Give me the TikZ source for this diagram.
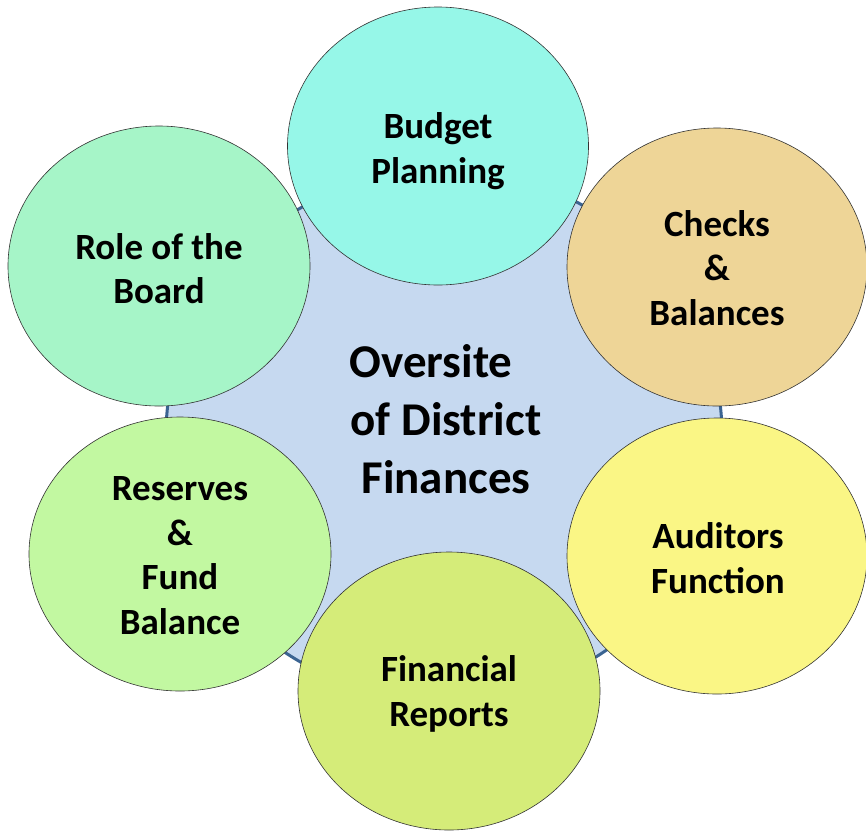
\documentclass[tikz,border=0pt]{standalone}
\usepackage{fontspec}
\setmainfont{Carlito}
\begin{document}
\begin{tikzpicture}[x=1pt,y=-1pt,
  sat/.style={draw=black!80,line width=0.6pt},
  lbl/.style={font=\fontsize{37}{44.5}\selectfont\bfseries,align=center,text=black},
  hub/.style={font=\fontsize{47}{58}\selectfont\bfseries,align=center,text=black}]
\definecolor{hubfill}{HTML}{C6D9F0}
\definecolor{hubline}{HTML}{3B6492}
\definecolor{cBudget}{HTML}{96F7E8}
\definecolor{cRole}{HTML}{A6F5C8}
\definecolor{cChecks}{HTML}{EED597}
\definecolor{cAudit}{HTML}{FAF685}
\definecolor{cFin}{HTML}{D5EC79}
\definecolor{cRes}{HTML}{C2F8A1}
\useasboundingbox (0,0) rectangle (866,831);
% central shape
\draw[fill=hubfill,draw=hubline,line width=3pt] (444,435) ellipse [x radius=278,y radius=265];
\node[hub] (hub) at (446,419) {\mbox{Oversite\kern 30pt}\\of District\\Finances};
% satellites
\draw[sat,fill=cBudget] (438,146) ellipse [x radius=150.5,y radius=139];
\draw[sat,fill=cRole] (159,266) ellipse [x radius=151,y radius=140];
\draw[sat,fill=cChecks] (717,267) ellipse [x radius=150,y radius=139];
\draw[sat,fill=cAudit] (717,556) ellipse [x radius=150,y radius=138];
\draw[sat,fill=cFin] (449,691) ellipse [x radius=151,y radius=139];
\draw[sat,fill=cRes] (180,554) ellipse [x radius=151,y radius=137];
% labels
\node[lbl] (budget) at (438,151) {Budget\\Planning};
\node[lbl] (role) at (159,268.5) {Role of the\\Board};
\node[lbl] (checks) at (717,268) {Checks\\\&\\Balances};
\node[lbl] (audit) at (718,558) {Auditors\\Function};
\node[lbl] (fin) at (449,694) {Financial\\Reports};
\node[lbl] (res) at (180,555.5) {Reserves\\\&\\Fund\\Balance};
\end{tikzpicture}
\end{document}
